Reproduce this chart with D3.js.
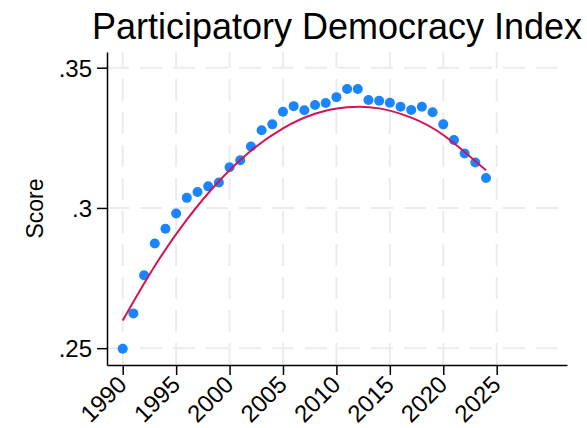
<!DOCTYPE html>
<html>
<head>
<meta charset="utf-8">
<script src="https://cdn.jsdelivr.net/npm/d3@7"></script>
<style>
    body { margin: 0; background: #fff; }
    svg { display: block; font-family: "Liberation Sans", Arial, Helvetica, sans-serif; }
</style>
</head>
<body>
<svg id="chart"></svg>
<script>
// === Dane ===
const years = [1990, 1991, 1992, 1993, 1994, 1995, 1996, 1997, 1998, 1999,
    2000, 2001, 2002, 2003, 2004, 2005, 2006, 2007, 2008, 2009,
    2010, 2011, 2012, 2013, 2014, 2015, 2016, 2017, 2018, 2019,
    2020, 2021, 2022, 2023, 2024];
const scores = [0.2498, 0.2624, 0.2760, 0.2873, 0.2926, 0.2980, 0.3036, 0.3057, 0.3077, 0.3091,
    0.3145, 0.3170, 0.3219, 0.3277, 0.3298, 0.3343, 0.3363, 0.3348, 0.3367, 0.3374,
    0.3395, 0.3424, 0.3424, 0.3385, 0.3382, 0.3375, 0.3361, 0.3349, 0.3361, 0.3341,
    0.3298, 0.3242, 0.3194, 0.3162, 0.3107];

// krzywa dopasowania
const fitYears = [1990, 1993, 1996, 1999, 2002, 2005, 2008, 2011, 2014, 2017, 2020, 2024];
const fitScores = [0.2599, 0.2793, 0.2958, 0.3095, 0.3204, 0.3284, 0.3336, 0.3359, 0.3355, 0.3322, 0.3260, 0.3134];

const xTicks = [1990, 1995, 2000, 2005, 2010, 2015, 2020, 2025];
const yTicks = [0.25, 0.30, 0.35];
const yTickLabels = [".25", ".3", ".35"];

const title = "Participatory Democracy Index";
const yTitle = "Score";

// === Wykres ===
const W = 587, H = 428;
const mLeft = 107, mRight = 567, mTop = 52, mBottom = 365;

const svg = d3.select("#chart").attr("width", W).attr("height", H);

const x = d3.scaleLinear().domain([1988.53, 2031.58]).range([mLeft, mRight]);
const y = d3.scaleLinear().domain([0.2440, 0.3556]).range([mBottom, mTop]);

// siatka
const grid = svg.append("g")
    .attr("stroke", "#ebebeb")
    .attr("stroke-width", 2)
    .attr("stroke-dasharray", "22,11");
grid.selectAll("line.v")
    .data(xTicks)
    .enter().append("line")
    .attr("x1", d => x(d)).attr("x2", d => x(d))
    .attr("y1", mBottom).attr("y2", mTop);
grid.selectAll("line.h")
    .data(yTicks)
    .enter().append("line")
    .attr("y1", d => y(d)).attr("y2", d => y(d))
    .attr("x1", mLeft).attr("x2", mRight - 4);

// osie
const xAxis = svg.append("g")
    .attr("transform", `translate(0,${mBottom})`)
    .call(d3.axisBottom(x).tickValues(xTicks).tickSize(10).tickSizeOuter(0).tickFormat(d3.format("d")));
xAxis.select(".domain").attr("stroke", "#000").attr("stroke-width", 1.5);
xAxis.selectAll(".tick line").attr("stroke", "#000").attr("stroke-width", 1.5);
xAxis.selectAll(".tick text")
    .attr("font-size", 24)
    .attr("fill", "#000")
    .attr("text-anchor", "end")
    .attr("y", 0).attr("dy", 0)
    .attr("transform", "translate(5,21) rotate(-45)");

const yAxis = svg.append("g")
    .attr("transform", `translate(${mLeft},0)`)
    .call(d3.axisLeft(y).tickValues(yTicks).tickSize(10).tickSizeOuter(0)
        .tickFormat((d, i) => yTickLabels[i]));
yAxis.select(".domain").attr("stroke", "#000").attr("stroke-width", 1.5);
yAxis.selectAll(".tick line").attr("stroke", "#000").attr("stroke-width", 1.5);
yAxis.selectAll(".tick text")
    .attr("font-size", 24)
    .attr("fill", "#000")
    .attr("x", -15)
    .attr("dy", "0.36em");

// punkty
svg.append("g")
    .selectAll("circle")
    .data(years)
    .enter().append("circle")
    .attr("cx", d => x(d))
    .attr("cy", (d, i) => y(scores[i]))
    .attr("r", 5)
    .attr("fill", "#1a85ff");

// linia dopasowania
const line = d3.line()
    .x(d => x(d[0]))
    .y(d => y(d[1]))
    .curve(d3.curveNatural);
svg.append("path")
    .datum(fitYears.map((yr, i) => [yr, fitScores[i]]))
    .attr("d", line)
    .attr("fill", "none")
    .attr("stroke", "#d41159")
    .attr("stroke-width", 2);

// tytuły
svg.append("text")
    .attr("x", (mLeft + mRight) / 2)
    .attr("y", 39)
    .attr("text-anchor", "middle")
    .attr("font-size", 36)
    .attr("fill", "#000")
    .text(title);

svg.append("text")
    .attr("transform", `translate(43,${(mTop + mBottom) / 2}) rotate(-90)`)
    .attr("text-anchor", "middle")
    .attr("font-size", 23)
    .attr("fill", "#000")
    .text(yTitle);
</script>
</body>
</html>
